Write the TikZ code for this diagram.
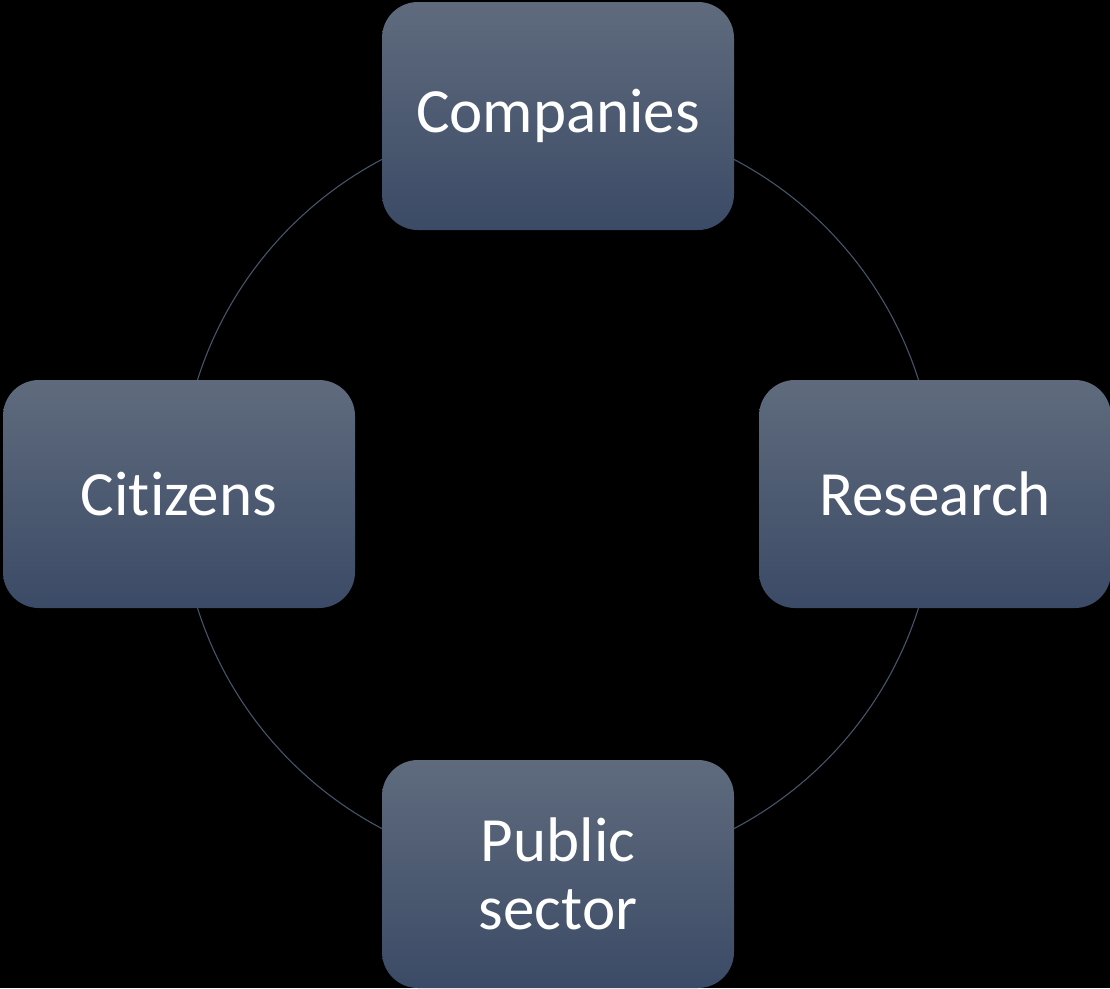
\documentclass[tikz,border=0pt]{standalone}
\usepackage{fontspec}
\setmainfont{Carlito}[Ligatures={NoCommon}]
\definecolor{boxtop}{HTML}{5F6B7D}
\definecolor{boxbot}{HTML}{3B4A66}
\definecolor{ringcol}{HTML}{45536B}
\begin{document}
\begin{tikzpicture}[x=1pt,y=-1pt,
  sector/.style={rounded corners=36pt, minimum width=352pt, minimum height=228pt,
    top color=boxtop, bottom color=boxbot, draw=none, text=white,
    font=\fontsize{63}{68}\selectfont, align=center, inner sep=0pt},
  ring/.style={draw=ringcol, line width=1.1pt}]
\fill[black] (0,0) rectangle (1110,988);
\useasboundingbox (0,0) rectangle (1110,988);
\coordinate (c) at (558,494);
\draw[ring] (c) circle[radius=378];
\node[sector] (comp) at (558,116) {Companies};
\node[sector] (cit) at (179,494) {Citizens};
\node[sector] (res) at (935,494) {Research};
\node[sector] (pub) at (558,874) {Public\\sector};
\end{tikzpicture}
\end{document}
